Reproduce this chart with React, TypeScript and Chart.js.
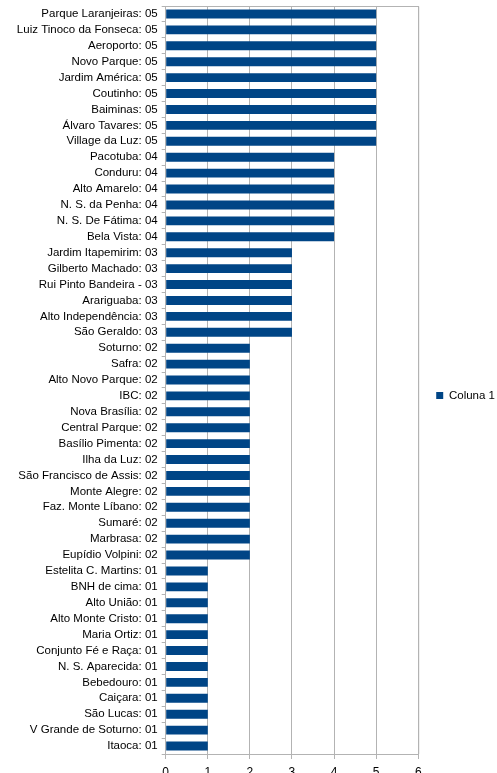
import { useEffect, useRef } from "react";
import { Chart, registerables, Plugin } from "chart.js";

Chart.register(...registerables);

const neighbourhoods = [
  "Parque Laranjeiras: 05",
  "Luiz Tinoco da Fonseca: 05",
  "Aeroporto: 05",
  "Novo Parque: 05",
  "Jardim América: 05",
  "Coutinho: 05",
  "Baiminas: 05",
  "Álvaro Tavares: 05",
  "Village da Luz: 05",
  "Pacotuba: 04",
  "Conduru: 04",
  "Alto Amarelo: 04",
  "N. S. da Penha: 04",
  "N. S. De Fátima: 04",
  "Bela Vista: 04",
  "Jardim Itapemirim: 03",
  "Gilberto Machado: 03",
  "Rui Pinto Bandeira - 03",
  "Arariguaba: 03",
  "Alto Independência: 03",
  "São Geraldo: 03",
  "Soturno: 02",
  "Safra: 02",
  "Alto Novo Parque: 02",
  "IBC: 02",
  "Nova Brasília: 02",
  "Central Parque: 02",
  "Basílio Pimenta: 02",
  "Ilha da Luz: 02",
  "São Francisco de Assis: 02",
  "Monte Alegre: 02",
  "Faz. Monte Líbano: 02",
  "Sumaré: 02",
  "Marbrasa: 02",
  "Eupídio Volpini: 02",
  "Estelita C. Martins: 01",
  "BNH de cima: 01",
  "Alto União: 01",
  "Alto Monte Cristo: 01",
  "Maria Ortiz: 01",
  "Conjunto Fé e Raça: 01",
  "N. S. Aparecida: 01",
  "Bebedouro: 01",
  "Caiçara: 01",
  "São Lucas: 01",
  "V Grande de Soturno: 01",
  "Itaoca: 01",
];

const coluna1 = [
  5, 5, 5, 5, 5, 5, 5, 5, 5,
  4, 4, 4, 4, 4, 4,
  3, 3, 3, 3, 3, 3,
  2, 2, 2, 2, 2, 2, 2, 2, 2, 2, 2, 2, 2, 2,
  1, 1, 1, 1, 1, 1, 1, 1, 1, 1, 1, 1,
];

const xTicks = [0, 1, 2, 3, 4, 5, 6];

const GRID = "#b3b3b3";

// top/right frame of the plot area
const frame: Plugin = {
  id: "frame",
  afterDraw(chart) {
    const { ctx, chartArea } = chart;
    ctx.save();
    ctx.strokeStyle = GRID;
    ctx.lineWidth = 1;
    ctx.beginPath();
    ctx.moveTo(chartArea.left, chartArea.top + 0.5);
    ctx.lineTo(chartArea.right + 0.5, chartArea.top + 0.5);
    ctx.lineTo(chartArea.right + 0.5, chartArea.bottom);
    ctx.stroke();
    ctx.restore();
  },
};

export default function App() {
  const chartRef = useRef<HTMLCanvasElement>(null);
  const chartInstance = useRef<Chart | null>(null);

  useEffect(() => {
    if (!chartRef.current) return;
    if (chartInstance.current) chartInstance.current.destroy();

    Chart.defaults.font.family = "'Liberation Sans', Arial, sans-serif";
    Chart.defaults.font.size = 11.5;
    Chart.defaults.color = "#000";

    chartInstance.current = new Chart(chartRef.current, {
      type: "bar",
      data: {
        labels: neighbourhoods,
        datasets: [
          {
            label: "Coluna 1",
            data: coluna1,
            backgroundColor: "#004586",
            borderWidth: 0,
            barPercentage: 0.56,
            categoryPercentage: 1,
          },
        ],
      },
      plugins: [frame],
      options: {
        indexAxis: "y",
        animation: false,
        responsive: true,
        maintainAspectRatio: false,
        layout: { padding: { top: 6, right: -8, left: 0, bottom: 0 } },
        plugins: {
          tooltip: { enabled: false },
          legend: {
            position: "right",
            labels: {
              boxWidth: 7,
              boxHeight: 7,
              padding: 18,
              color: "#000",
              font: { size: 11.5 },
            },
          },
        },
        scales: {
          x: {
            min: 0,
            max: 6,
            afterBuildTicks(scale) {
              scale.ticks = xTicks.map((v) => ({ value: v }));
            },
            afterFit(scale) {
              scale.height = 31;
              scale.paddingLeft = 0;
              scale.paddingRight = 0;
            },
            grid: { color: GRID, tickLength: 5 },
            border: { color: GRID },
            ticks: { padding: 6, font: { size: 12 } },
          },
          y: {
            afterFit(scale) {
              scale.width = 165.7;
              scale.paddingTop = 0;
              scale.paddingBottom = 0;
            },
            grid: { drawOnChartArea: false, color: GRID, tickLength: 4, offset: true },
            border: { color: GRID },
            ticks: { padding: 4, autoSkip: false },
          },
        },
      },
    });

    return () => {
      if (chartInstance.current) {
        chartInstance.current.destroy();
        chartInstance.current = null;
      }
    };
  }, []);

  return (
    <div style={{ position: "fixed", left: 0, top: 0, width: 497, height: 773, overflow: "hidden", background: "#fff" }}>
      <div style={{ position: "relative", width: 497, height: 785 }}>
        <canvas ref={chartRef} />
      </div>
    </div>
  );
}
